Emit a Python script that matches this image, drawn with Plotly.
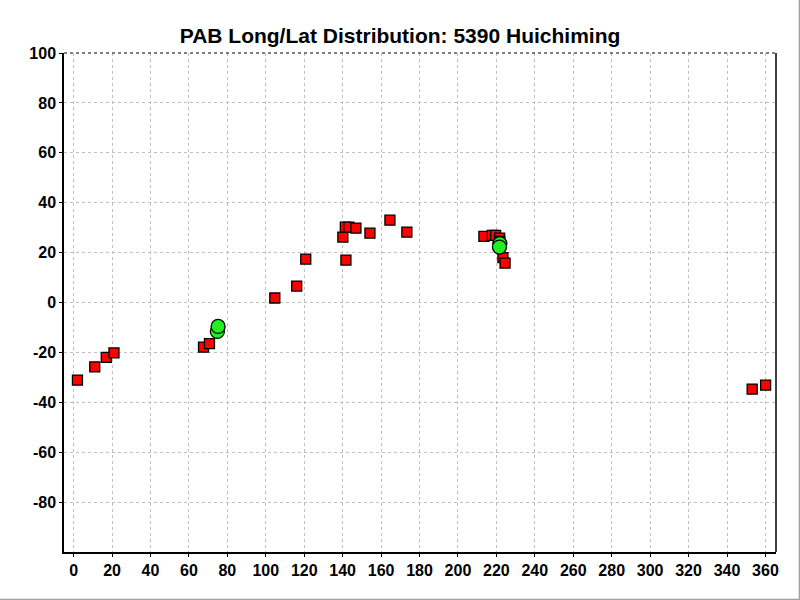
import plotly.graph_objects as go

# Red squares (longitude, latitude)
sq_lon = [2, 11, 17, 21, 67.6, 70.7, 104.7, 116.1, 120.8, 140.1, 141.7, 141.4, 143.2, 146.9,
          154.2, 164.6, 173.4, 213.5, 217.9, 219.6, 221.7, 221.7, 223.4, 224.5, 353.1, 360.1]
sq_lat = [-31.1, -25.8, -22.0, -20.2, -17.9, -16.5, 1.8, 6.6, 17.4, 26.2, 17.0, 30.2, 30.2, 29.8,
          27.8, 33.0, 28.2, 26.5, 26.9, 26.9, 25.8, 24.5, 18.0, 15.8, -34.7, -33.1]

# Green circles
ci_lon = [74.8, 75.2, 221.8, 221.6]
ci_lat = [-11.6, -9.6, 23.6, 22.2]

x_ticks = list(range(0, 361, 20))
y_ticks = list(range(-80, 101, 20))

fig = go.Figure()
fig.add_trace(go.Scatter(
    x=sq_lon, y=sq_lat, mode="markers",
    marker=dict(symbol="square", size=10, color="#ff0000", line=dict(color="black", width=1.3)),
    showlegend=False, cliponaxis=False))
fig.add_trace(go.Scatter(
    x=ci_lon, y=ci_lat, mode="markers",
    marker=dict(symbol="circle", size=14, color="#22ee22", line=dict(color="black", width=1.3)),
    showlegend=False, cliponaxis=False))

fig.update_layout(
    width=800, height=600,
    margin=dict(l=64, r=24, t=53, b=48, autoexpand=False),
    paper_bgcolor="white", plot_bgcolor="white",
    title=dict(text="<b>PAB Long/Lat Distribution: 5390 Huichiming</b>", x=0.5, xanchor="center",
               y=1 - 36 / 600, yanchor="middle", automargin=False,
               font=dict(family="Liberation Sans, Arial", size=21, color="black")),
    font=dict(family="Liberation Sans, Arial", color="black"),
)
fig.update_xaxes(
    range=[-5, 365.5], tickmode="array", tickvals=x_ticks, automargin=False,
    ticktext=[f"<b>{v}</b>" for v in x_ticks], tickfont=dict(size=16),
    showgrid=True, gridcolor="#c0c0c0", griddash="3px,3px", gridwidth=1,
    showline=True, linecolor="black", linewidth=1.5, mirror=False,
    ticks="outside", ticklen=3, tickcolor="black", zeroline=False)
fig.update_yaxes(
    range=[-100, 100], tickmode="array", tickvals=y_ticks, automargin=False,
    ticktext=[f"<b>{v}</b>" for v in y_ticks], tickfont=dict(size=16),
    showgrid=True, gridcolor="#c0c0c0", griddash="3px,3px", gridwidth=1,
    showline=True, linecolor="black", linewidth=1.5, mirror=False,
    ticks="outside", ticklen=3, tickcolor="black", zeroline=False)

# top border dashed, right border solid
fig.add_shape(type="line", xref="paper", yref="paper", x0=0, x1=1, y0=1, y1=1,
              line=dict(color="black", width=1, dash="3px,3px"))
fig.add_shape(type="line", xref="paper", yref="paper", x0=1, x1=1, y0=0, y1=1,
              line=dict(color="black", width=1.5))
# grey frame on right and bottom of the image
fig.add_shape(type="line", xref="paper", yref="paper", x0=1.033, x1=1.033, y0=-0.1, y1=1.2,
              line=dict(color="#a0a0a0", width=1.5))
fig.add_shape(type="line", xref="paper", yref="paper", x0=-0.1, x1=1.04, y0=-0.0952, y1=-0.0952,
              line=dict(color="#a0a0a0", width=1.5))

fig.write_html("out.html", config={"displayModeBar": False},
               post_script="document.body.style.margin='0px';document.body.style.overflow='hidden';")
